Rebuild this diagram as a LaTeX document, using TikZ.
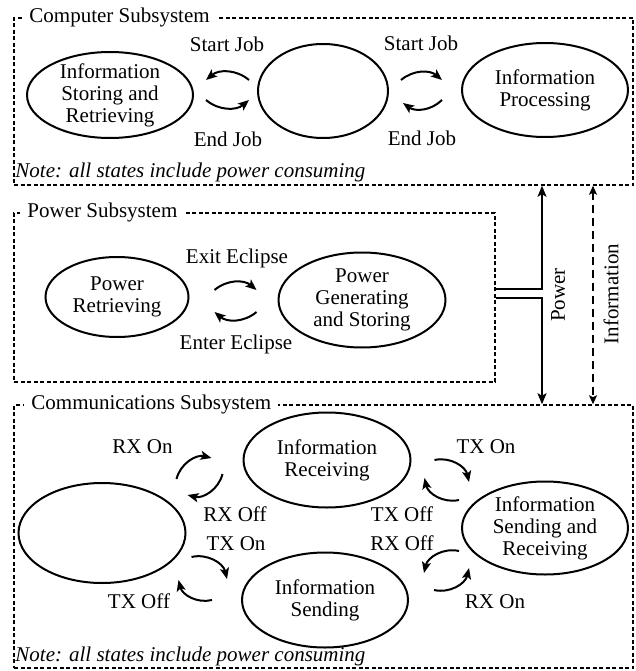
\documentclass[tikz,border=0pt]{standalone}
\usepackage{fontspec}
\setmainfont{Liberation Serif}
\usetikzlibrary{arrows.meta, shapes.geometric}

\begin{document}
\begin{tikzpicture}[x=1pt, y=-1pt,
    font=\fontsize{21}{22}\selectfont,
    state/.style={draw, ellipse, line width=2pt, inner sep=-6pt, align=center,
                  minimum width=166pt, minimum height=94pt},
    sub/.style={draw, rectangle, line width=1.5pt, dash pattern=on 4pt off 2.5pt,
                inner sep=0pt},
    ttl/.style={fill=white, inner xsep=7pt, inner ysep=1pt, anchor=base west},
    note/.style={inner xsep=2pt, anchor=base west, font=\fontsize{21}{22}\selectfont\itshape},
    lbl/.style={inner sep=0pt, anchor=base},
    arr/.style={-{Stealth[length=11pt, width=9pt, inset=2.5pt]}, line width=2pt},
    iarr/.style={{Stealth[length=9pt, width=8pt, inset=2pt]}-{Stealth[length=9pt, width=8pt, inset=2pt]},
                 line width=1.5pt, dash pattern=on 8pt off 5pt}
  ]
    \useasboundingbox (0,0) rectangle (635,671);

    \node[sub, minimum width=619pt, minimum height=167pt] (cmpbox) at (323.5,101.5) {};
    \node[sub, minimum width=481pt, minimum height=169pt] (pwrbox) at (254.5,297.5) {};
    \node[sub, minimum width=619pt, minimum height=263pt] (combox) at (323.5,536.5) {};

    \node[ttl] (cmpttl) at ([shift={(9,5)}]cmpbox.north west) {Computer Subsystem};
    \node[ttl] (pwrttl) at ([shift={(7,5.5)}]pwrbox.north west) {Power Subsystem};
    \node[ttl] (comttl) at ([shift={(11,5.5)}]combox.north west) {Communications Subsystem};
    \node[note] (cmpnote) at ([shift={(0,-8)}]cmpbox.south west) {Note: all states include power consuming};
    \node[note] (comnote) at ([shift={(0,-7.5)}]combox.south west) {Note: all states include power consuming};

    \node[state, minimum height=86pt] (store) at (110,95) {Information\\Storing and\\Retrieving};
    \node[state, minimum width=130pt] (idle) at (323,91) {};
    \node[state] (proc) at (545,90) {Information\\Processing};

    \draw[arr] ([shift={(-8,-11)}]idle.west) to[bend right=40] ([shift={(12,-15)}]store.east);
    \draw[arr] ([shift={(12,5)}]store.east) to[bend right=40] ([shift={(-8,9)}]idle.west);
    \draw[arr] ([shift={(12,-11)}]idle.east) to[bend left=40] ([shift={(-19,-10)}]proc.west);
    \draw[arr] ([shift={(-19,10)}]proc.west) to[bend left=40] ([shift={(14,12)}]idle.east);
    \node[lbl] (sj1) at (227,52) {Start Job};
    \node[lbl] (ej1) at (228,147) {End Job};
    \node[lbl] (sj2) at (421,51) {Start Job};
    \node[lbl] (ej2) at (422,146) {End Job};

    \node[state, minimum width=143pt, minimum height=80pt] (pret) at (117,297) {Power\\Retrieving};
    \node[state, minimum width=167pt, minimum height=95pt] (pgen) at (362,300) {Power\\Generating\\and Storing};

    \draw[arr] ([shift={(25,-7)}]pret.east) to[bend left=40] ([shift={(-21,-10)}]pgen.west);
    \draw[arr] ([shift={(-21,12)}]pgen.west) to[bend left=40] ([shift={(25,15)}]pret.east);
    \node[lbl] (exit) at (237,263) {Exit Eclipse};
    \node[lbl] (enter) at (236,349) {Enter Eclipse};

    \coordinate (pbus) at (542,0);
    \coordinate (ibus) at (593,0);
    \draw[arr, line width=1.7pt] ([shift={(0,-8.5)}]pwrbox.east) -| (pbus |- cmpbox.south);
    \draw[arr, line width=1.7pt] ([shift={(0,0.5)}]pwrbox.east) -| (pbus |- combox.north);
    \draw[iarr] (ibus |- cmpbox.south) -- (ibus |- combox.north);
    \node[rotate=90, inner sep=0pt] (pwrlbl) at (558,295) {Power};
    \node[rotate=90, inner sep=0pt] (inflbl) at (611,294) {Information};

    \node[state, minimum width=167pt, minimum height=100pt] (cidle) at (102,533) {};
    \node[state, minimum width=167pt, minimum height=95pt] (crx) at (327,460) {Information\\Receiving};
    \node[state, minimum height=95pt] (ctx) at (325,600) {Information\\Sending};
    \node[state, minimum height=93pt] (csr) at (545,528) {Information\\Sending and\\Receiving};

    \draw[arr] ([shift={(-10,-54)}]cidle.east) to[bend left=45] ([shift={(-31,-2)}]crx.west);
    \draw[arr] ([shift={(-20,14)}]crx.west) to[bend left=45] ([shift={(1,-38)}]cidle.east);
    \draw[arr] ([shift={(5,24)}]cidle.east) to[bend left=45] ([shift={(-14,-21)}]ctx.west);
    \draw[arr] ([shift={(-29,0)}]ctx.west) to[bend left=45] ([shift={(-8,47)}]cidle.east);
    \draw[arr] ([shift={(23,0)}]crx.east) to[bend left=45] ([shift={(8,-46)}]csr.west);
    \draw[arr] ([shift={(-2,-28)}]csr.west) to[bend left=45] ([shift={(13,18)}]crx.east);
    \draw[arr] ([shift={(-2,23)}]csr.west) to[bend right=45] ([shift={(15,-27)}]ctx.east);
    \draw[arr] ([shift={(25,-10)}]ctx.east) to[bend right=45] ([shift={(8,40)}]csr.west);
    \node[lbl] (rxon1) at (142.5,453) {RX On};
    \node[lbl] (rxoff1) at (235,521.5) {RX Off};
    \node[lbl] (txon1) at (236,550.5) {TX On};
    \node[lbl] (txoff1) at (139,608) {TX Off};
    \node[lbl] (txon2) at (486,453) {TX On};
    \node[lbl] (txoff2) at (402,521.5) {TX Off};
    \node[lbl] (rxoff2) at (402,550.5) {RX Off};
    \node[lbl] (rxon2) at (495,608) {RX On};
  \end{tikzpicture}
\end{document}
